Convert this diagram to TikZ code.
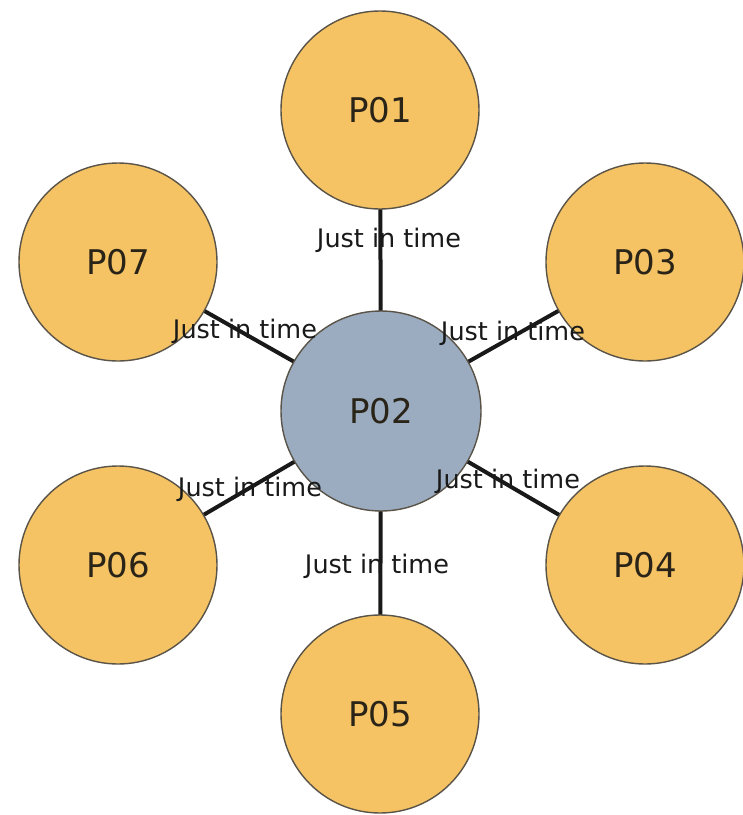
\documentclass[tikz,border=0pt]{standalone}
\usepackage{fontspec}
\setmainfont{DejaVu Sans}
\definecolor{orangefill}{HTML}{F5C364}
\definecolor{bluefill}{HTML}{9BACC0}
\definecolor{rimcol}{HTML}{5A5448}
\definecolor{txtcol}{HTML}{2A2418}
\tikzset{
  pnode/.style={circle, draw=rimcol, line width=1.4pt, fill=orangefill, minimum size=198pt, inner sep=0pt, text=txtcol, font=\fontsize{34}{40}\selectfont},
  hub/.style={pnode, fill=bluefill, draw=rimcol, minimum size=200pt},
  link/.style={draw=black!90, line width=4pt},
  jitlabel/.style={inner sep=0pt, text=black!90, font=\fontsize{25.5}{30}\selectfont}
}
\begin{document}
\begin{tikzpicture}[x=1pt,y=-1pt]
\useasboundingbox[fill=white] (0,0) rectangle (743,815);
% links (drawn first, behind circles)
\coordinate (c02) at (381,411);
\coordinate (c01) at (380,110);
\coordinate (c03) at (645,262);
\coordinate (c04) at (645,565);
\coordinate (c05) at (380,714);
\coordinate (c06) at (118,565);
\coordinate (c07) at (118,262);
\foreach \t in {c01,c03,c04,c05,c06,c07}{\draw[link] (c02) -- (\t);}
\node[hub] (p02) at (c02) {P02};
\node[pnode] (p01) at (c01) {P01};
\node[pnode] (p03) at (c03) {P03};
\node[pnode] (p04) at (c04) {P04};
\node[pnode] (p05) at (c05) {P05};
\node[pnode] (p06) at (c06) {P06};
\node[pnode] (p07) at (c07) {P07};
\node[jitlabel] (l1) at (389,240) {Just in time};
\node[jitlabel] (l7) at (245,331) {Just in time};
\node[jitlabel] (l3) at (513,333) {Just in time};
\node[jitlabel] (l6) at (250,489) {Just in time};
\node[jitlabel] (l4) at (508,481) {Just in time};
\node[jitlabel] (l5) at (377,566) {Just in time};
\end{tikzpicture}
\end{document}
